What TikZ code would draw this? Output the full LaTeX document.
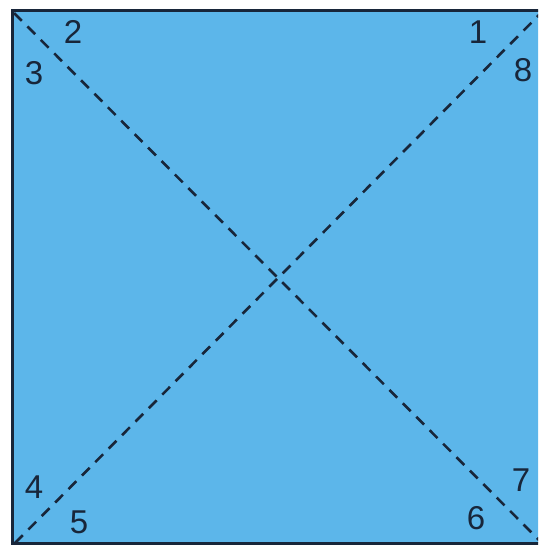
\documentclass[tikz,border=0pt]{standalone}
\usepackage{fontspec}
\setmainfont{Liberation Sans}
\definecolor{paper}{RGB}{92,182,234}
\definecolor{ink}{RGB}{24,38,58}
\begin{document}
\begin{tikzpicture}[x=1pt,y=-1pt,
  numlabel/.style={text=ink,font=\fontsize{33}{33}\selectfont,inner sep=0pt,anchor=center},
  fold/.style={draw=ink,line width=2.6pt,dash pattern=on 11pt off 8pt},
  edge/.style={draw=ink,line width=3pt}]
\useasboundingbox (0,0) rectangle (538,546);
\clip (0,0) rectangle (538,546);
\fill[white] (0,0) rectangle (538,546);
\fill[paper] (12,10) rectangle (545,543);
\coordinate (tl) at (12,10);
\coordinate (tr) at (545,10);
\coordinate (bl) at (12,543);
\coordinate (br) at (545,543);
\draw[edge] (tr) -- (tl) -- (bl) -- (br);
\coordinate (d1s) at (14,13);
\coordinate (d1e) at (540,541);
\coordinate (d2s) at (15,543);
\coordinate (d2e) at (542,12);
\draw[fold] (d1s) -- (d1e);
\draw[fold] (d2s) -- (d2e);
\node[numlabel] (n1) at (478,32) {1};
\node[numlabel] (n2) at (73,32) {2};
\node[numlabel] (n3) at (34,73) {3};
\node[numlabel] (n4) at (34,487) {4};
\node[numlabel] (n5) at (79,522) {5};
\node[numlabel] (n6) at (476,518) {6};
\node[numlabel] (n7) at (521,480) {7};
\node[numlabel] (n8) at (523,70) {8};
\end{tikzpicture}
\end{document}
